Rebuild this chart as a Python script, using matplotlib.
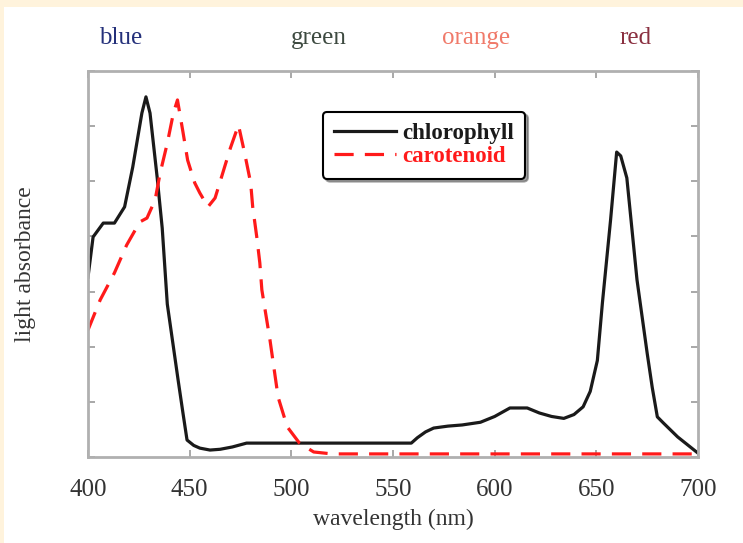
import matplotlib
matplotlib.use("Agg")
import matplotlib.pyplot as plt
from matplotlib.patches import Rectangle

# absorbance spectra (arbitrary units, 0..1 = axes height)
wl_chl = [400, 402.5, 407.5, 413, 418, 422, 426.5, 428.5, 430.5, 434,
          436.5, 439, 444.3, 446.7, 448.7, 452, 455, 460, 465, 471,
          478, 559, 562, 566, 570, 577, 584, 593, 600, 607.5,
          616, 622, 628, 634, 639, 643.5, 647, 650.5, 653, 657,
          660, 662, 665, 670, 675, 677.5, 680, 683, 690, 700]
abs_chl = [0.466, 0.57, 0.606, 0.606, 0.648, 0.751, 0.891, 0.933, 0.891, 0.725,
           0.593, 0.396, 0.2, 0.114, 0.044, 0.03, 0.023, 0.018, 0.02, 0.026,
           0.036, 0.036, 0.05, 0.065, 0.075, 0.08, 0.083, 0.09, 0.105, 0.127,
           0.127, 0.114, 0.105, 0.10, 0.11, 0.13, 0.17, 0.25, 0.40, 0.614,
           0.79, 0.78, 0.723, 0.459, 0.269, 0.18, 0.104, 0.088, 0.052, 0.01]

wl_car = [400, 406, 413, 419, 425.5, 429, 433, 435.5, 439, 442,
          444, 446.7, 449, 452.5, 455, 459, 462.5, 466, 470, 474,
          477, 480, 481, 483, 484.5, 485.5, 489.5, 493.5, 498, 504,
          511, 520, 700]
abs_car = [0.329, 0.407, 0.477, 0.549, 0.609, 0.619, 0.666, 0.736, 0.813, 0.891,
           0.925, 0.842, 0.769, 0.71, 0.684, 0.648, 0.671, 0.731, 0.8, 0.86,
           0.788, 0.71, 0.648, 0.57, 0.503, 0.433, 0.303, 0.155, 0.078, 0.036,
           0.013, 0.008, 0.008]

xticks = [400, 450, 500, 550, 600, 650, 700]
band_names = ['blue', 'green', 'orange', 'red']
band_colors = ['#24307a', '#3d4a40', '#f07a6a', '#8a3040']
band_x = [121, 319, 476, 636]  # pixel centres

serif = ['Liberation Serif', 'DejaVu Serif']

fig = plt.figure(figsize=(7.43, 5.43), dpi=100)
fig.patch.set_facecolor('#fff3dc')
fig.patches.append(Rectangle((4 / 743, 0), 1, 1 - 7 / 543, transform=fig.transFigure,
                             facecolor='white', edgecolor='none', zorder=-10))

ax = fig.add_axes([88 / 743, 1 - 457 / 543, 610 / 743, 386 / 543])
ax.set_facecolor('white')

ax.plot(wl_chl, abs_chl, color='#1a1a1a', lw=2.3, label='chlorophyll')
ax.plot(wl_car, abs_car, color='#ff1a1a', lw=2.3, dashes=(6, 3.5), label='carotenoid')

ax.set_xlim(400, 700)
ax.set_ylim(0, 1)
ax.set_xticks(xticks)
ax.set_xticklabels([str(t) for t in xticks], family=serif, fontsize=18, color='#333333')
ax.set_yticks([i / 7 for i in range(8)])
ax.set_yticklabels([])
ax.tick_params(direction='in', length=5, width=1.2, color='#999999',
               top=True, right=True, pad=15.5)
for s in ax.spines.values():
    s.set_color('#b0b0b0')
    s.set_linewidth(2)

ax.set_xlabel('wavelength (nm)', family=serif, fontsize=17, color='#333333')
ax.set_ylabel('light absorbance', family=serif, fontsize=17, color='#333333')
ax.xaxis.set_label_coords(0.5, -(519 - 457) / 386)
ax.yaxis.set_label_coords(-62 / 610, 0.5)
ax.xaxis.label.set_va('center')
ax.yaxis.label.set_va('center')

for name, col, px in zip(band_names, band_colors, band_x):
    fig.text(px / 743, 1 - 38 / 543, name, family=serif, fontsize=18, color=col,
             ha='center', va='center')

leg = ax.legend(loc='upper left', bbox_to_anchor=(0.385, 0.895), shadow=True,
                fancybox=True, framealpha=1, edgecolor='black', handlelength=2.7,
                prop={'family': serif, 'weight': 'bold', 'size': 16.5},
                labelcolor='linecolor', borderpad=0.5, labelspacing=0.1,
                handletextpad=0.25, borderaxespad=0)
leg.get_frame().set_linewidth(1.5)

fig.savefig('out.png', dpi=100, facecolor=fig.get_facecolor())
